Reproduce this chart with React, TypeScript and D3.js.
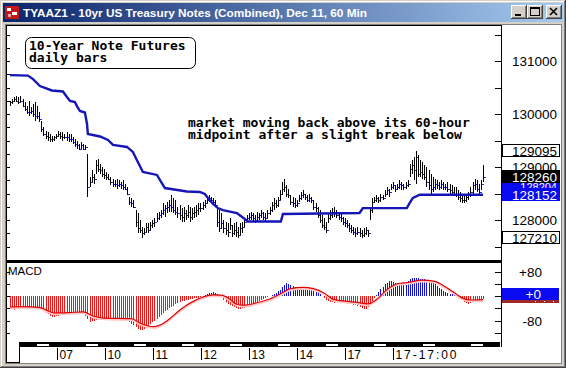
import React from "react";
import * as d3 from "d3";

const TITLE = "TYAAZ1 - 10yr US Treasury Notes (Combined), Dec 11, 60 Min";
const PRICE_BASE = 127; // price = base + value/32

const barHigh32 = [
  104,105,106,107,106, 107,105,103,101, 104,100,102,103,101, 97, 92,88,
  86,85,84,83,83, 84,86,85,85,84,85,84, 84,82,81,80,78, 79,78,77, 72,
  58,62,60, 68,69,66, 64,63,61,60, 58,57,56,57,56,55,56,54, 52, 46,45,44,
  38,36,32, 28,27, 30,30,31, 32,33, 36,37,38, 42,41,43,44, 47,45,44,
  40,41,39,40,38,41,40,39,40,41,42, 42,43,44, 46,47,46,45,44, 40,38,36,
  32,31,30,33,29,30,31,28,30,31, 33, 35,36,37,36,35,37,36,38,37,36, 38,
  40,43,45,44, 46, 50,55,57,53,51, 47,46,45,44, 47,49,50,48,47,48,46, 44,42,
  40,38,35,33,31, 36,38,39,40,38,37, 36,34,33,32, 30,29,28,27,28,27,26,27,28,26,
  40,45, 46,47,46,48,47, 50,52,51, 54,55,53,54,56,55,54,55,56, 66,68,
  70,73.5,71, 68,67,65, 64,62,60,58,57, 56,55,56,55,54, 55,54,53,52,52,
  50,49,48,47,48,49, 52,55,57,56,54, 56,65,
];
const barLow32 = [
  101,102,103,103,102, 103,100,98,96, 95,96,94,92,93, 91, 85,83,
  81,80,79,79,80, 81,82,81,80,81,80,79, 79,78,76,75,74, 75,74,74, 46,
  52,55,54, 60,61,60, 58,57,56,56, 53,52,52,51,52,51,50,50, 47, 41,40,39,
  28,24,24, 21,23, 25,24,26, 27,28, 31,32,33, 35,34,36,37, 37,36,35,
  33,32,31,31,32,33,31,32,33,34,35, 37,38,39, 42,43,42,41,40, 28,25,27,
  24,23,22,26,22,23,22,21,23,24, 28, 31,32,32,31,30,31,32,33,32,31, 33,
  35,37,38,39, 40, 44,47,49,46,45, 41,40,39,40, 43,44,45,44,43,43,42, 38,37,
  33,30,27,26,24, 30,32,33,34,33,32, 31,29,28,27, 25,24,23,22,23,22,21,22,23,22,
  32,36, 42,43,42,43,44, 46,47,46, 50,51,49,50,51,50,50,51,52, 58,60,
  56,54,58, 58,57,56, 52,50,48,49,50, 51,50,51,50,50, 49,48,47,47,46,
  44,43,42,42,43,44, 46,48,50,49,47, 50,55,
];
const barClose32 = [
  103,104,105,104,103, 104,101,99,97, 97,98,96,95,95, 93, 87,84,
  83,82,81,81,82, 83,84,83,82,82,82,81, 81,79,78,77,75, 77,75,76, 52,
  55,58,57, 65,63,62, 60,59,58,57, 55,54,54,53,54,53,52,51, 48, 43,42,40,
  31,27,26, 24,25, 28,26,29, 30,31, 33,35,36, 38,39,40,41, 40,38,37,
  36,35,34,36,35,37,34,36,37,38,39, 39,41,42, 44,45,44,43,41, 31,27,30,
  27,26,25,29,24,26,25,23,27,28, 31, 33,34,35,33,32,34,35,36,34,33, 36,
  38,41,42,41, 44, 48,51,52,48,47, 43,42,41,42, 45,47,48,46,44,45,44, 40,39,
  35,32,29,28,26, 33,35,37,36,35,34, 33,31,30,29, 27,26,25,24,25,24,23,24,26,24,
  38,43, 44,45,44,46,45, 48,50,49, 52,53,51,52,54,53,52,53,54, 63,65,
  62,70,60, 61,60,58, 55,53,51,52,54, 53,52,54,52,52, 51,50,49,48,48,
  46,45,44,44,46,47, 49,53,54,51,49, 54,58,
];

const midBar = [0, 8.6, 11, 14.3, 20, 25.3, 27.2, 28.7, 31, 32, 33.4, 35.8, 36.8, 37.2, 43, 46.8, 49.2, 55.9, 58.7, 60.6, 63.5, 70.2, 74, 84.5, 90.7, 93.1, 94.6, 97, 99.3, 101.7, 108.4, 112.2, 113.7, 129.4, 130.4, 167, 168.6, 189.6, 191, 192.5, 195.8, 226];
const mid32 = [119.5, 119.2, 117.1, 112.9, 110.2, 109.6, 106.3, 103.9, 103.2, 100.8, 97.8, 96.9, 90, 83.9, 82.4, 80.3, 77.3, 76.1, 73.1, 68.2, 61, 59.2, 51.3, 49.2, 48.9, 47.7, 45.3, 41.7, 39.2, 38, 36.2, 32.6, 31.1, 31.1, 35.6, 36.2, 39.2, 39.2, 42.3, 45.3, 47.25, 47.25];

const macdHist = [
  -42,-44,-45,-44,-43,-42,
  -40,-39,-38,-38,-37,-38,-39,-38,-40,
  -44,-50,-55,-60,-64,-67,-68,
  -66,-64,-63,-62,-61,-60,-59,-58,-58,-57,-56,-56,-57,-58,
  -66,-76,-84,-82,-80,
  -78,-76,-75,-76,-77,-76,-75,-76,-77,-78,-77,-76,-75,-76,-78,-80,-84,-90,
  -96,-102,-107,-110,-111,-109,-105,
  -98,-92,-86,-80,-74,-68,-62,
  -56,-50,-45,-40,-36,-32,-27,-23,-20,
  -17,-15,-13,-12,-10,-9,-7,-6,-5,-3,
  0,3,6,9,11,12,11,8,4,
  -4,-12,-20,-26,-30,
  -34,-37,-40,-42,-41,-40,-38,-36,-34,-32,
  -28,-24,-20,-17,-14,-11,-8,
  -4,0,4,8,11,15,19,
  28,36,41,40,36,
  33,31,30,31,30,29,28,28,27,26,24,
  18,12,6,0,-6,
  -12,-17,-20,-21,-22,-21,-20,-22,-23,-24,-25,-24,-26,-28,-30,-33,-37,
  -40,-42,-41,-36,
  -26,-16,-6,2,
  12,22,30,38,44,48,50,46,
  42,41,40,41,43,46,50,55,
  58,60,60,58,57,
  56,54,52,50,48,44,
  38,32,27,22,17,13,10,
  7,5,3,1,-2,
  -8,-14,-20,-24,-25,
  -22,-18,-15,-13,-12,-11,-10,
];

const sigBar = [0, 6, 14, 18, 21, 28, 35, 40, 45, 58, 62, 66, 69, 72, 76, 80, 84, 88, 92, 97, 101, 105, 108, 112, 118, 124, 130, 134, 140, 145, 150, 155, 165, 171, 175, 180, 185, 190, 197, 203, 208, 212, 216, 220, 226];
const sigVal = [-36, -35, -37, -48, -55, -54, -52, -66, -72, -74, -88, -98, -100, -94, -76, -52, -32, -16, -4, 4, 3, -10, -26, -30, -22, -10, 10, 24, 28, 24, 10, -12, -20, -26, -12, 20, 40, 44, 52, 48, 30, 12, -6, -13, -12];

const dayTickBar = [22.3, 45.3, 68.3, 91.2, 114.1, 137, 160, 183];
const dayTickLabels = ["07", "10", "11", "12", "13", "14", "17", "17-17:00"];
const dashBar = [16, 39, 62, 85, 108, 131, 154, 177, 200, 223];

const priceTickValues = [128, 129, 130, 131];
const priceTickLabels = ["128000", "129000", "130000", "131000"];
const boxLabels = ["129095", "128204", "128152", "128260", "127210"];
const boxPrices = [129.296875, 128.640625, 128.4765625, 128.8125, 127.65625];
const boxKinds = ["white", "blue", "blue", "black", "white"];

const macdTickValues = [80, -80];
const macdTickLabels = ["+80", "-80"];
const macdLastLabel = "+0";

const noteLines = ["10-Year Note Futures", "daily bars"];
const commentLines = ["market moving back above its 60-hour", "midpoint after a slight break below"];

const W = 566, H = 368;
const SANS = "'Liberation Sans', Arial, sans-serif";
const MONO = "'DejaVu Sans Mono', 'Liberation Mono', monospace";

export default function App() {
  const N = barHigh32.length;
  const x = d3.scaleLinear().domain([0, N - 1]).range([10, 483]);
  const yP = d3.scaleLinear().domain([127, 131]).range([273, 61]);
  const yM = d3.scaleLinear().domain([-80, 80]).range([320.5, 271.5]);
  const px = (v: number) => PRICE_BASE + v / 32;

  const midLine = d3.line<number>().x((d, i) => x(midBar[i])).y((d) => yP(px(d)))(mid32) || "";
  const sigLine = d3.line<number>().x((d, i) => x(sigBar[i])).y((d) => yM(d)).curve(d3.curveMonotoneX)(sigVal) || "";

  const rightTicks = d3.range(127.5, 131.51, 0.5);
  const leftTicks = d3.range(127.25, 131.76, 0.25).filter((v) => yP(v) > 28 && yP(v) < 258);
  const macdTicks = [-120, -80, -40, 0, 40, 80];

  const axisX = 501.5;

  const btn = (bx: number, glyph: React.ReactNode, key: string) => (
    <g key={key}>
      <rect x={bx} y={5} width={16} height={14} fill="#D4D0C8" />
      <path d={`M${bx + 0.5},${19} V${5.5} H${bx + 16}`} stroke="#fff" fill="none" />
      <path d={`M${bx},${18.5} H${bx + 15.5} V${5}`} stroke="#404040" fill="none" />
      <path d={`M${bx + 1},${17.5} H${bx + 14.5} V${6}`} stroke="#808080" fill="none" />
      {glyph}
    </g>
  );

  return (
    <svg width={W} height={H} style={{ position: "absolute", left: 0, top: 0 }} shapeRendering="crispEdges">
      <defs>
        <linearGradient id="tb" x1="0" x2="1" y1="0" y2="0">
          <stop offset="0" stopColor="#0A246A" />
          <stop offset="1" stopColor="#A6CAF0" />
        </linearGradient>
        <clipPath id="hidClip">
          <rect x={502} y={183} width={58} height={5} />
        </clipPath>
      </defs>
      <rect x={0} y={0} width={W} height={H} fill="#D4D0C8" />
      <path d={`M0.5,${H} V0.5 H${W}`} stroke="#D4D0C8" fill="none" />
      <path d={`M1.5,${H - 1} V1.5 H${W - 1}`} stroke="#fff" fill="none" />
      <path d={`M0,${H - 0.5} H${W - 0.5} V0`} stroke="#404040" fill="none" />
      <path d={`M1,${H - 1.5} H${W - 1.5} V1`} stroke="#808080" fill="none" />

      {/* title bar */}
      <rect x={3} y={3} width={560} height={19} fill="url(#tb)" />
      <rect x={5} y={6} width={14} height={13} fill="#C01818" />
      <rect x={7} y={8} width={4} height={3} fill="#fff" />
      <rect x={12} y={12} width={5} height={3} fill="#fff" />
      <rect x={8} y={14} width={3} height={3} fill="#F0A0A0" />
      <text x={23} y={17} fill="#fff" fontFamily={SANS} fontWeight="bold" fontSize={11.5} textLength={344} lengthAdjust="spacingAndGlyphs">{TITLE}</text>
      {btn(511, <rect x={515} y={14} width={6} height={2} fill="#000" />, "min")}
      {btn(527, <g><rect x={530.5} y={7.5} width={9} height={8} fill="none" stroke="#000" /><rect x={531} y={8} width={8} height={1} fill="#000" /></g>, "max")}
      {btn(546, <path d="M550,8 L557,15 M557,8 L550,15" stroke="#000" strokeWidth={1.6} shapeRendering="geometricPrecision" />, "cls")}

      {/* client area */}
      <rect x={5} y={24} width={557} height={340} fill="#808080" />
      <rect x={6} y={25} width={555} height={338} fill="#fff" />
      <line x1={6} x2={axisX} y1={25.5} y2={25.5} stroke="#000" />
      <line x1={6.5} x2={6.5} y1={25} y2={342} stroke="#000" />

      {/* price panel ticks */}
      {leftTicks.map((v) => (
        <line key={"lt" + v} x1={7} x2={10} y1={Math.round(yP(v)) + 0.5} y2={Math.round(yP(v)) + 0.5} stroke="#000" />
      ))}
      {rightTicks.map((v) => (
        <line key={"rt" + v} x1={495} x2={axisX} y1={Math.round(yP(v)) + 0.5} y2={Math.round(yP(v)) + 0.5} stroke="#000" />
      ))}
      {priceTickValues.map((v, i) => (
        <text key={"pl" + v} x={557} y={yP(v) + 5} textAnchor="end" fontFamily={SANS} fontSize={13.5} fill="#000">{priceTickLabels[i]}</text>
      ))}

      {/* price bars */}
      {barHigh32.map((h, i) => {
        const xx = Math.round(x(i)) + 0.5;
        const y1 = Math.round(yP(px(h)));
        let y2 = Math.round(yP(px(barLow32[i])));
        if (y2 - y1 < 2) y2 = y1 + 2;
        const yc = Math.round(yP(px(barClose32[i]))) + 0.5;
        return (
          <g key={"b" + i}>
            <line x1={xx} x2={xx} y1={y1} y2={y2} stroke="#000" />
            <line x1={xx + 0.5} x2={xx + 2.5} y1={yc} y2={yc} stroke="#2A2AC8" />
          </g>
        );
      })}

      {/* midpoint line */}
      <path d={midLine} fill="none" stroke="#1616B8" strokeWidth={2.4} shapeRendering="geometricPrecision" />

      {/* annotations */}
      <rect x={25.5} y={37.5} width={170} height={31} rx={6} fill="#fff" stroke="#000" shapeRendering="geometricPrecision" />
      {noteLines.map((s, i) => (
        <text key={"n" + i} x={29} y={50 + i * 12} fontFamily={MONO} fontWeight="bold" fontSize={13} fill="#000">{s}</text>
      ))}
      {commentLines.map((s, i) => (
        <text key={"c" + i} x={188} y={127 + i * 12} fontFamily={MONO} fontWeight="bold" fontSize={13} fill="#000">{s}</text>
      ))}

      {/* right price boxes */}
      {boxLabels.map((lab, i) => {
        const cy = Math.round(yP(boxPrices[i]));
        const kind = boxKinds[i];
        const fill = kind === "white" ? "#fff" : kind === "blue" ? "#0A0AF0" : "#000";
        const tc = kind === "white" ? "#000" : "#fff";
        const hidden = i === 1;
        return (
          <g key={"bx" + i}>
            <rect x={502.5} y={cy - 6.5} width={57} height={12} fill={fill} stroke={kind === "white" ? "#000" : fill} />
            <text x={557} y={cy + 5} textAnchor="end" fontFamily={SANS} fontSize={hidden ? 11 : 13.5} fill={tc} clipPath={hidden ? "url(#hidClip)" : undefined}>{lab}</text>
          </g>
        );
      })}

      {/* separator */}
      <rect x={6} y={260} width={496} height={2.5} fill="#000" />

      {/* MACD panel */}
      {macdTicks.map((v) => (
        <g key={"mt" + v}>
          <line x1={7} x2={10} y1={Math.round(yM(v)) + 0.5} y2={Math.round(yM(v)) + 0.5} stroke="#000" />
          <line x1={495} x2={axisX} y1={Math.round(yM(v)) + 0.5} y2={Math.round(yM(v)) + 0.5} stroke="#000" />
        </g>
      ))}
      {macdHist.map((v, i) => {
        const xx = Math.round(x(i)) + 0.5;
        return <line key={"h" + i} x1={xx} x2={xx} y1={yM(0)} y2={yM(v)} stroke={v < 0 ? "#FF1010" : "#1010E8"} />;
      })}
      <path d={sigLine} transform="translate(0,1.3)" fill="none" stroke="#FFC8C8" strokeWidth={2} shapeRendering="geometricPrecision" />
      <path d={sigLine} fill="none" stroke="#E00000" strokeWidth={1.2} shapeRendering="geometricPrecision" />
      <text x={8} y={275} fontFamily={SANS} fontSize={11.5} fill="#000">MACD</text>
      {macdTickValues.map((v, i) => (
        <text key={"ml" + v} x={542} y={yM(v) + 5} textAnchor="end" fontFamily={SANS} fontSize={13.5} fill="#000">{macdTickLabels[i]}</text>
      ))}
      <rect x={502} y={288} width={57} height={12} fill="#0A0AF0" />
      <rect x={502} y={300} width={57} height={3} fill="#A02828" />
      {[535, 544, 553].map((d) => <rect key={"dot" + d} x={d} y={301} width={1} height={1} fill="#fff" />)}
      <text x={541} y={299} textAnchor="end" fontFamily={SANS} fontSize={13.5} fill="#fff">{macdLastLabel}</text>

      {/* right axis line */}
      <line x1={axisX} x2={axisX} y1={25} y2={347} stroke="#000" />

      {/* time axis */}
      <rect x={19} y={342} width={481} height={5} fill="#000" />
      {dashBar.map((b) => (
        <rect key={"d" + b} x={Math.round(x(b)) - 6} y={343.5} width={12} height={2} fill="#fff" />
      ))}
      <path d="M6.5,342 V362.5 H19.5 V342" fill="none" stroke="#000" />
      {dayTickBar.map((b, i) => {
        const xx = Math.round(x(b)) + 0.5;
        const lab = dayTickLabels[i];
        return (
          <g key={"dt" + i}>
            <line x1={xx} x2={xx} y1={348} y2={360} stroke="#000" />
            <text x={xx + 2} y={359} fontFamily={SANS} fontSize={12} fill="#000" {...(lab.length > 3 ? { textLength: 61, lengthAdjust: "spacing" } : {})}>{lab}</text>
          </g>
        );
      })}
    </svg>
  );
}
